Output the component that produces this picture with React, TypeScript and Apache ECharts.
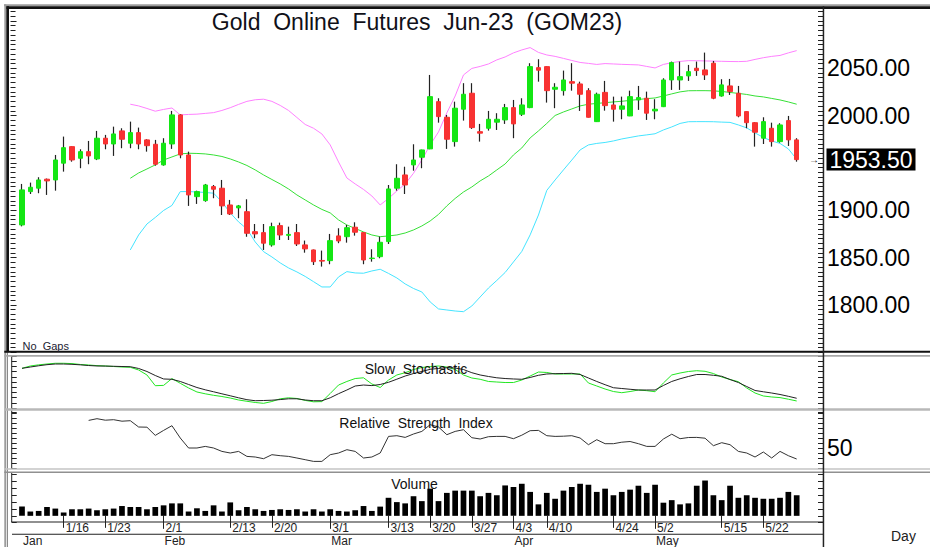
import React, { useEffect, useRef } from 'react';
import * as echarts from 'echarts';

const dates = [
  '1/9','1/10','1/11','1/12','1/13','1/16','1/17','1/18','1/19','1/20',
  '1/23','1/24','1/25','1/26','1/27','1/30','1/31',
  '2/1','2/2','2/3','2/6','2/7','2/8','2/9','2/10','2/13','2/14','2/15','2/16','2/17',
  '2/20','2/21','2/22','2/23','2/24','2/27','2/28',
  '3/1','3/2','3/3','3/6','3/7','3/8','3/9','3/13','3/14','3/15','3/16','3/17',
  '3/20','3/21','3/22','3/23','3/24','3/27','3/28','3/29','3/30','3/31',
  '4/3','4/4','4/5','4/6','4/10','4/11','4/12','4/13','4/14','4/17','4/18','4/19',
  '4/24','4/25','4/26','4/27','4/28',
  '5/2','5/3','5/4','5/5','5/8','5/9','5/10','5/11','5/15','5/16','5/17','5/18','5/19',
  '5/22','5/23','5/24','5/25','5/26'
];
const dateTickLabels = ['1/16','1/23','2/1','2/13','2/20','3/1','3/13','3/20','3/27','4/3','4/10','4/24','5/2','5/15','5/22'];
const monthFirstDates = ['1/9','2/1','3/1','4/3','5/2'];
const monthNames = ['Jan','Feb','Mar','Apr','May'];

const open = [1884.5,1919.7,1923.3,1932.8,1932.0,1949.7,1967.2,1954.9,1961.9,1954.2,
  1976.1,1970.0,1983.8,1970.8,1982.0,1974.3,1969.7,1947.9,1970.0,2000.7,
  1958.4,1914.4,1910.2,1925.0,1923.3,1905.6,1902.5,1898.5,1877.4,1876.4,
  1863.4,1883.8,1873.5,1876.4,1863.4,1858.1,1847.0,1846.8,1872.9,1872.1,
  1882.1,1876.4,1849.0,1851.0,1866.9,1923.3,1937.3,1947.9,1956.0,1964.8,
  2014.7,1998.2,1972.5,2006.7,2023.6,1983.0,1986.6,1993.0,1995.4,2008.4,
  2001.4,2008.4,2050.6,2051.7,2027.8,2026.3,2035.8,2033.4,2026.3,1993.6,
  2024.5,2011.2,2006.7,1999.6,2016.5,2018.3,2004.9,2009.4,2037.6,2037.6,
  2041.9,2050.0,2048.2,2055.3,2020.7,2031.3,2023.6,2004.2,1992.5,1976.1,
  1986.6,1972.5,1994.7,1974.3];
const high = [1927.8,1929.2,1934.9,1933.5,1958.4,1977.8,1967.5,1964.4,1973.2,1983.8,
  1979.6,1988.3,1986.6,1993.6,1987.3,1975.0,1974.3,1976.1,2004.9,2001.5,
  1961.9,1920.7,1927.8,1926.7,1932.0,1910.9,1905.6,1911.6,1885.5,1885.5,
  1886.9,1886.9,1882.7,1885.5,1868.0,1858.5,1857.4,1875.0,1881.0,1884.5,
  1887.3,1877.0,1858.8,1872.1,1926.7,1948.6,1946.0,1969.7,1964.0,2042.9,
  2018.3,2000.7,2014.7,2034.2,2034.2,1991.2,2004.9,2002.5,2012.3,2016.5,
  2018.3,2055.3,2059.5,2052.0,2034.2,2047.5,2055.3,2035.8,2028.9,2024.2,
  2036.6,2020.0,2020.0,2026.3,2031.3,2025.3,2017.3,2039.4,2057.0,2057.0,
  2053.5,2057.0,2066.5,2057.7,2038.4,2038.7,2031.3,2004.5,1993.0,1998.2,
  1992.5,1991.9,1999.6,1976.1];
const low = [1883.0,1917.2,1918.0,1916.2,1920.7,1940.8,1951.3,1944.4,1948.6,1953.0,
  1964.4,1957.4,1965.5,1965.5,1964.4,1961.9,1947.1,1947.1,1964.8,1954.9,
  1904.6,1906.7,1909.0,1912.7,1895.0,1895.0,1891.6,1872.0,1870.5,1858.1,
  1861.6,1868.6,1868.6,1862.3,1855.2,1842.2,1840.5,1843.0,1865.2,1865.8,
  1873.2,1843.0,1845.7,1849.3,1864.4,1920.7,1917.2,1941.8,1944.4,1964.5,
  1992.5,1964.8,1967.2,1994.7,1985.9,1972.5,1984.1,1984.8,1991.2,1976.1,
  1999.6,2007.8,2035.8,2013.7,2007.8,2021.1,2026.3,2004.9,1998.0,1993.3,
  2005.2,1993.6,1996.1,1999.4,2006.0,1995.4,1996.1,2009.0,2027.1,2027.1,
  2036.6,2041.9,2037.6,2017.3,2020.0,2021.8,1998.2,1986.6,1967.2,1970.0,
  1967.2,1971.4,1967.9,1951.3];
const close = [1921.5,1924.3,1932.0,1931.0,1953.1,1966.1,1953.1,1961.9,1957.4,1976.1,
  1970.0,1980.6,1975.0,1982.0,1970.0,1968.2,1948.6,1970.8,2000.7,1958.4,
  1916.2,1919.7,1926.7,1922.2,1904.6,1896.1,1904.6,1875.7,1875.0,1865.2,
  1882.7,1873.9,1874.5,1864.4,1859.2,1845.7,1846.3,1867.9,1867.6,1881.6,
  1876.8,1847.5,1849.5,1866.2,1922.5,1933.8,1926.7,1953.1,1963.7,2020.0,
  1998.9,1975.0,2007.8,2022.5,1987.3,1981.4,1996.1,1996.1,2008.4,1991.2,
  2011.2,2051.7,2047.9,2026.3,2029.9,2037.6,2034.2,2022.5,1998.2,2022.5,
  2010.5,2006.7,2010.2,2020.0,2019.0,2002.5,2006.7,2037.6,2055.9,2041.1,
  2046.4,2047.5,2042.9,2018.3,2032.4,2025.3,1999.6,1992.5,1982.4,1993.6,
  1972.5,1990.1,1974.3,1953.5];

const bandStart = 13;
const bbUpper = [2012,2010.2,2007.5,2004.6,2006.5,2008,2000.7,2001.2,2001.5,2002.3,
  2003.1,2005.4,2008.3,2011.8,2015,2016.7,2017.3,2015,2010.7,2005.4,
  1998,1990.6,1986.6,1980.6,1969,1951,1934.1,1927.8,1922,1915.1,
  1905.6,1912.5,1920.4,1927.8,1939.1,1953.1,1969,1982.7,2002.8,2020.7,
  2042.9,2049.8,2051.9,2054.5,2058.8,2061.9,2066.2,2069.3,2071.8,2066.7,
  2064,2062.5,2060.4,2058.2,2056.1,2055.1,2054,2054.9,2054.5,2054.1,
  2053.8,2053.5,2051.9,2050.3,2054,2055.8,2057.2,2058,2057.9,2057.7,
  2057.5,2057.3,2057.1,2057,2057.3,2059.3,2061.1,2062.5,2063.5,2066.2,2068.6];
const bbMiddle = [1933.8,1939.4,1943.6,1947.9,1953.1,1956.3,1959.5,1960.2,1960,1959.5,
  1958.4,1956.8,1954.2,1951,1947.3,1942.6,1937.3,1932.5,1927.8,1922.5,
  1916.2,1910.9,1905.6,1900.9,1897.2,1889.8,1884.5,1880.8,1877.1,1873.9,
  1872.1,1872.9,1873.9,1876,1879.2,1883.4,1888.7,1895.6,1904.6,1912.5,
  1919.3,1924.6,1931,1936.2,1942.6,1948.9,1958.4,1965.8,1976.4,1983.8,
  1991.7,2000.1,2003.8,2007,2010.2,2012,2012.8,2013.6,2014.4,2015.1,
  2016,2017,2017.9,2018.6,2020.7,2022.9,2025,2026.2,2026.3,2026.3,
  2026.1,2025.5,2024.4,2023.4,2022.3,2020.7,2019.7,2018.1,2016.5,2014.4,2012];
const bbLower = [1858.1,1873.9,1885.5,1892.4,1899.8,1905.1,1919.7,1919.7,1919.3,1918.8,
  1918,1908.9,1897.2,1887.7,1880.3,1866.5,1856.3,1850.7,1844.4,1839.1,
  1834.9,1830.1,1824.6,1819,1819,1829.6,1835.2,1833.8,1833.5,1835.9,
  1837.7,1833.3,1828.5,1822.2,1817.4,1813.7,1803.2,1795.8,1794.7,1793.6,
  1792.9,1798.9,1808.4,1817.9,1825.9,1834.3,1845.4,1856.5,1874,1895,
  1921,1932,1942.6,1953,1963.7,1969,1970.6,1971.6,1973.2,1975.3,
  1976.9,1978.5,1979.6,1980.8,1984.8,1988,1991.7,1993.5,1993.6,1993.6,
  1993.5,1993.1,1992.8,1990.1,1987,1981.7,1976.9,1973.2,1970.6,1964.8,1953.9];

const stochK = [76.3,80.8,83,84.6,86,86,85.4,83.7,82.7,81.5,
  80.8,79.8,78.8,78.3,73.1,63.5,42.9,43.5,56.7,47.5,
  38.5,30.8,27.3,24.4,22.1,19.2,15.4,12.9,10.6,9,
  12.5,17.7,19.6,18.3,14.6,11.9,12.3,27.9,44.2,51,
  56.7,58.1,46.2,39.4,53.8,63.5,67.9,74,77.9,79.8,
  80.8,78.8,74,63.5,57.7,55.2,51,50,49,49,
  53.8,61.5,69.2,68.3,65.4,65.4,65.4,65.4,48.1,42.3,
  36.5,31.7,29.4,31.7,34.6,33.3,31.3,48.1,63.5,67.3,
  70.2,71.7,70.6,66.3,59.6,54.8,50.6,38.5,28.8,23.1,
  21.2,20,16.9,13.5];
const stochD = [76.3,78.8,81.2,83.3,84.6,84.6,84,83,81.7,80.8,
  80.6,80.2,79.8,79.4,76,70.2,62.5,55.8,55.2,51,
  45.2,39.4,35,31.2,27.3,23.5,19.6,16,14,14.4,
  15,16.2,17.7,17.7,15.4,14,14,19.6,27.5,34.6,
  42.3,44.2,43.1,45.2,49.4,55.4,61.5,66.3,70.2,74.4,
  76,77.5,76.9,74,67.9,63.5,60.6,58.1,56.7,55.8,
  55.2,58.7,62.9,65.4,66,66.3,66.7,64.4,57.7,51,
  44.8,39,37.5,36,34.6,34.6,34.6,43.3,51,56.2,
  60.6,64.4,64.4,62.9,61,54.8,49,41.3,33.7,31.2,
  28.8,26,22.5,18.7];

const rsiStart = 8;
const rsi = [77.6,79.3,77.8,78.3,76.8,77.3,71,70.8,62.6,67.6,
  72.3,60,50,50,51.6,50,46.6,45,46.6,41.6,
  41,39.3,43.3,42.3,41.6,40,38.3,36.6,36.6,43.3,
  45,48.3,46.6,40,41,45,61.6,62.3,60.6,64,
  66.6,73.3,71,63.3,66.6,68.3,60.3,59,61.3,61.6,
  61.6,59.3,62.8,67.3,67.6,62.3,61.6,61.8,62.3,60,
  53.3,58.3,54.3,54.3,55.8,56.5,54.3,51.6,51.6,59,
  63.8,59.3,60.5,60.6,59.8,52.3,55.3,53.3,46.6,45,
  41,46,40,46.6,42.3,39];

const volume = [94,44,50,90,74,34,67,67,74,57,
  67,74,100,90,90,67,90,107,127,127,
  44,77,50,107,44,137,57,90,67,50,
  60,67,60,67,44,67,44,67,50,44,
  57,100,50,94,184,140,127,200,150,277,
  150,234,257,257,257,200,234,210,310,294,
  327,244,117,234,174,257,294,327,317,244,
  277,210,244,267,307,234,317,134,160,117,
  127,307,360,210,160,307,184,210,184,174,
  174,184,244,210];

const FONT = "'Liberation Sans', Arial, Helvetica, sans-serif";
const UP = '#14e614';
const DOWN = '#f83232';
const NB = '\u00a0';

export default function App() {
  const ref = useRef<HTMLDivElement>(null);
  useEffect(() => {
    const chart = echarts.init(ref.current as HTMLDivElement, null, { renderer: 'svg' });
    const lastClose = close[close.length - 1];
    const candleFull = dates.map((_, i) => [open[i], close[i], low[i], high[i]]);
    const candleBody = dates.map((_, i) => [open[i], close[i], Math.min(open[i], close[i]), Math.max(open[i], close[i])]);
    const padBand = (arr: number[]) => [...Array(bandStart).fill(null), ...arr];
    const rsiData = [...Array(rsiStart).fill(null), ...rsi];
    const tickIdx = new Set(dateTickLabels.map((d) => dates.indexOf(d)));
    const monthIdx = monthFirstDates.map((d) => dates.indexOf(d));

    const gridL = 17.835;
    const gridR = 930 - 800.85;
    const tickLine = { color: '#222', width: 1 };

    const yPair = (g: number, min: number, max: number, interval: number, leftOffset: number, leftLen: number, rightLabel: any, minor: boolean) => {
      const minorTick = minor ? { show: true, splitNumber: 10, length: 5, lineStyle: tickLine } : { show: false };
      return [
        {
          type: 'value', gridIndex: g, position: 'left', offset: leftOffset, min, max, interval,
          axisLine: { show: false }, splitLine: { show: false }, axisLabel: { show: false },
          axisTick: { show: true, inside: true, length: leftLen, lineStyle: tickLine }, minorTick,
        },
        {
          type: 'value', gridIndex: g, position: 'right', offset: 823 - 800.85, min, max, interval,
          axisLine: { show: false }, splitLine: { show: false }, axisLabel: rightLabel,
          axisTick: { show: true, inside: true, length: 5, lineStyle: tickLine }, minorTick,
        },
      ];
    };
    const noLabel = { show: false };
    const priceLabel = {
      show: true, fontSize: 23, color: '#000', fontFamily: FONT, margin: 4,
      formatter: (v: number) => (v < 1800 || v > 2050 || Math.abs(v - lastClose) < 20 ? '' : v.toFixed(2)),
    };
    const rsiLabel = {
      show: true, fontSize: 23, color: '#000', fontFamily: FONT, margin: 4,
      formatter: (v: number) => (v === 50 ? '50' : ''),
    };

    const hiddenX = (g: number) => ({ type: 'category', gridIndex: g, data: dates, show: false, boundaryGap: true });

    const option: any = {
      animation: false,
      backgroundColor: '#fff',
      grid: [
        { left: gridL, right: gridR, top: 8, height: 344.3 },
        { left: gridL, right: gridR, top: 356, height: 52 },
        { left: gridL, right: gridR, top: 412, height: 56 },
        { left: gridL, right: gridR, top: 472, height: 51.7 },
      ],
      xAxis: [
        hiddenX(0), hiddenX(1), hiddenX(2),
        {
          type: 'category', gridIndex: 3, data: dates, boundaryGap: true, position: 'bottom', offset: -1.7,
          axisLine: { show: false },
          axisTick: { show: true, alignWithLabel: true, length: 12, interval: (i: number) => tickIdx.has(i), lineStyle: tickLine },
          axisLabel: {
            show: true, interval: (i: number) => tickIdx.has(i), align: 'left', verticalAlign: 'top',
            padding: [0, 0, 0, 2], margin: 1, fontSize: 12, color: '#222', fontFamily: FONT,
          },
        },
        {
          type: 'category', gridIndex: 3, data: dates, boundaryGap: true, position: 'bottom', offset: 10.3,
          axisLine: { show: false },
          axisTick: { show: true, alignWithLabel: true, length: 13, interval: (i: number) => i > 0 && monthIdx.includes(i), lineStyle: tickLine },
          axisLabel: {
            show: true, interval: (i: number) => monthIdx.includes(i), align: 'left', verticalAlign: 'top',
            padding: [0, 0, 0, 1], margin: 2, fontSize: 12, color: '#222', fontFamily: FONT,
            formatter: (v: string, i: number) => monthNames[monthIdx.indexOf(i)] ?? '',
          },
        },
      ],
      yAxis: [
        ...yPair(0, 1750, 2113.6, 50, 7.3, 6, priceLabel, true),
        ...yPair(1, 0, 100, 10, 6.1, 5, noLabel, false),
        ...yPair(2, 30, 86, 5, 6.1, 5, rsiLabel, false),
        ...yPair(3, -70, 447, 70, 6.1, 5, noLabel, false),
      ],
      series: [
        { type: 'line', xAxisIndex: 0, yAxisIndex: 0, data: padBand(bbUpper), symbol: 'none', silent: true, lineStyle: { color: '#ff80ff', width: 1 }, z: 1 },
        { type: 'line', xAxisIndex: 0, yAxisIndex: 0, data: padBand(bbMiddle), symbol: 'none', silent: true, lineStyle: { color: '#36e036', width: 1 }, z: 1 },
        { type: 'line', xAxisIndex: 0, yAxisIndex: 0, data: padBand(bbLower), symbol: 'none', silent: true, lineStyle: { color: '#44e4ff', width: 1 }, z: 1 },
        {
          type: 'candlestick', xAxisIndex: 0, yAxisIndex: 0, data: candleFull, barWidth: 1, silent: true, z: 2,
          itemStyle: { color: '#222', color0: '#222', borderColor: '#222', borderColor0: '#222', borderWidth: 1.2 },
        },
        {
          type: 'candlestick', xAxisIndex: 0, yAxisIndex: 0, data: candleBody, barWidth: 5, silent: true, z: 3,
          itemStyle: { color: UP, color0: DOWN, borderColor: UP, borderColor0: DOWN, borderWidth: 1 },
        },
        { type: 'line', xAxisIndex: 1, yAxisIndex: 2, data: stochK, symbol: 'none', silent: true, lineStyle: { color: '#22e622', width: 1 } },
        { type: 'line', xAxisIndex: 1, yAxisIndex: 2, data: stochD, symbol: 'none', silent: true, lineStyle: { color: '#222', width: 1 } },
        { type: 'line', xAxisIndex: 2, yAxisIndex: 4, data: rsiData, symbol: 'none', silent: true, lineStyle: { color: '#333', width: 1 } },
        { type: 'bar', xAxisIndex: 3, yAxisIndex: 6, data: volume, barWidth: 5.7, silent: true, itemStyle: { color: '#000' } },
      ],
    };
    chart.setOption(option);

    const py = chart.convertToPixel({ yAxisIndex: 0 } as any, lastClose) as unknown as number;

    const rect = (x: number, y: number, w: number, h: number, fill: string) => ({
      type: 'rect', shape: { x, y, width: w, height: h }, style: { fill }, silent: true, z: 100,
    });
    const text = (x: number, y: number, t: string, size: number, align: string, fill = '#111') => ({
      type: 'text', x, y, silent: true, z: 101,
      style: { text: t, fontSize: size, fontFamily: FONT, fill, align, verticalAlign: 'middle' },
    });

    const elements: any[] = [
      rect(4, 4.3, 926, 2, '#9c9c9c'),
      rect(6.3, 6.3, 923.7, 2.7, '#111'),
      rect(4.3, 4.3, 2, 542.7, '#9c9c9c'),
      rect(6.3, 6.3, 2.7, 346, '#111'),
      rect(7, 352, 1, 195, '#8a8a8a'),
      rect(4.3, 350.7, 925.7, 2, '#111'),
      rect(4.3, 355, 925.7, 1.7, '#a8a8a8'),
      rect(4.3, 408.3, 925.7, 2.4, '#b8b8b8'),
      rect(4.3, 468.3, 925.7, 1.5, '#c4c4c4'),
      rect(4.3, 471.5, 925.7, 1.5, '#909090'),
      rect(822.7, 6.3, 1.5, 540.7, '#222'),
      rect(11.2, 356.7, 1, 51.6, '#222'),
      rect(11.2, 410.7, 1, 57.6, '#222'),
      rect(11.2, 473, 1, 49, '#222'),
      rect(11.2, 521.5, 812, 1, '#222'),
      rect(12, 533.8, 811, 1, '#222'),
      text(417, 21.5, ['Gold', 'Online', 'Futures', 'Jun-23', '(GOM23)'].join(NB + NB), 23, 'center', '#101018'),
      text(22.5, 345.5, 'No' + NB + NB + 'Gaps', 11, 'left', '#223'),
      text(416, 368.5, 'Slow' + NB + NB + 'Stochastic', 14, 'center'),
      text(416, 423, ['Relative', 'Strength', 'Index'].join(NB + NB), 14, 'center'),
      text(414.5, 483.5, 'Volume', 14, 'center'),
      text(891, 536, 'Day', 14, 'left', '#222'),
      rect(826.5, py - 11, 89, 22, '#000'),
      text(871, py + 0.5, lastClose.toFixed(2), 23, 'center', '#fff'),
      text(814, py, '\u2192', 10, 'center', '#111'),
    ];
    chart.setOption({ graphic: { elements } });

    return () => chart.dispose();
  }, []);

  return <div ref={ref} style={{ position: 'absolute', left: 0, top: 0, width: 930, height: 547, background: '#fff' }} />;
}
